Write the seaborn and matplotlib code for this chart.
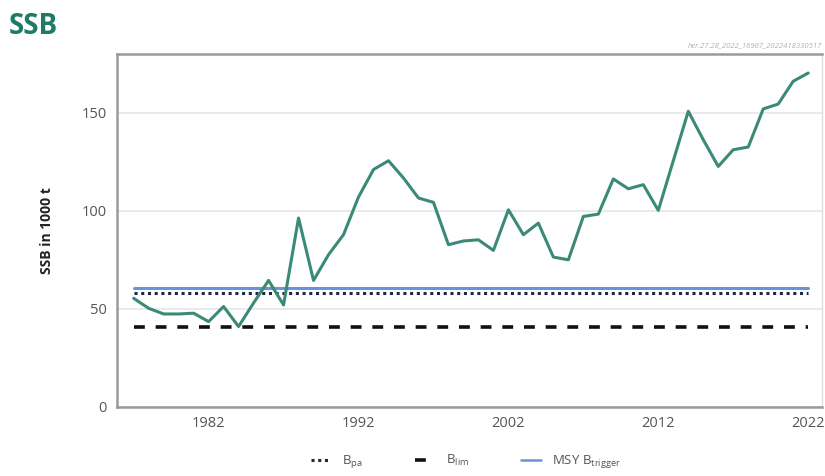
import numpy as np
import pandas as pd
import seaborn as sns
import matplotlib.pyplot as plt
from matplotlib.lines import Line2D

years = list(range(1977, 2023))
ssb = [55.4, 50.3, 47.4, 47.4, 47.8, 43.5, 51.2, 41.0, 53.0, 64.5,
       52.0, 96.3, 64.5, 77.6, 87.8, 107.0, 121.0, 125.5, 116.7, 106.5,
       104.3, 82.7, 84.6, 85.2, 79.8, 100.5, 87.8, 93.7, 76.4, 75.0,
       97.1, 98.3, 116.2, 111.2, 113.3, 100.2, 125.5, 150.7, 136.2, 122.6,
       131.1, 132.5, 151.9, 154.4, 166.0, 170.2]
b_pa = 58
b_lim = 41
msy_btrigger = 60.5

df = pd.DataFrame({'year': years, 'ssb': ssb})

sns.set_style('white')
plt.rcParams['font.family'] = ['Open Sans', 'DejaVu Sans']
plt.rcParams['mathtext.default'] = 'regular'

fig = plt.figure(figsize=(8.25, 4.76), dpi=100)
ax = fig.add_axes([0.142, 0.145, 0.854, 0.742])

ax.grid(axis='y', color='#e6e6e6', linewidth=1.2)
ax.set_axisbelow(True)

ax.plot([years[0], years[-1]], [msy_btrigger, msy_btrigger], color='#6a93d8', lw=2.2)
ax.plot([years[0], years[-1]], [b_pa, b_pa], color='#1c2647', lw=2.2, linestyle=(0, (1, 1.2)))
ax.plot([years[0], years[-1]], [b_lim, b_lim], color='#111111', lw=2.6, linestyle=(0, (3, 3)))
sns.lineplot(data=df, x='year', y='ssb', ax=ax, color='#3b8a78', lw=2.2)

ax.set_xlim(1975.9, 2022.9)
ax.set_ylim(0, 180)
ax.set_xticks([1982, 1992, 2002, 2012, 2022])
ax.set_yticks([0, 50, 100, 150])
ax.tick_params(axis='both', colors='#555555', labelsize=10.5, length=4, width=1)
ax.tick_params(axis='x', length=3)
ax.set_xlabel('')
ax.set_ylabel('SSB in 1000 t', fontsize=10, fontweight='bold', color='#222222', labelpad=20)

for side in ['left', 'bottom', 'top']:
    ax.spines[side].set_color('#9a9a9a')
    ax.spines[side].set_linewidth(1.8)
ax.spines['right'].set_color('#dddddd')
ax.spines['right'].set_linewidth(1)

fig.text(0.01, 0.945, 'SSB', fontsize=20, fontweight='bold', color='#1f7a68', va='center')
ax.text(1.0, 1.012, 'her.27.28_2022_16967_2022418330517', transform=ax.transAxes,
        ha='right', va='bottom', fontsize=5.5, style='italic', color='#b0b0b0')

handles = [
    Line2D([], [], color='#1c2647', lw=2.2, linestyle=(0, (1, 1.2))),
    Line2D([], [], color='#111111', lw=2.6, linestyle=(0, (3, 3))),
    Line2D([], [], color='#6a93d8', lw=1.8),
]
labels = [r'B$_{pa}$', r'B$_{lim}$', r'MSY B$_{trigger}$']
fig.legend(handles, labels, loc='center', bbox_to_anchor=(0.565, 0.03), ncol=3,
           frameon=False, fontsize=9.5, handlelength=1.5, columnspacing=4,
           labelcolor='#555555')

fig.savefig('out.png', dpi=100)
